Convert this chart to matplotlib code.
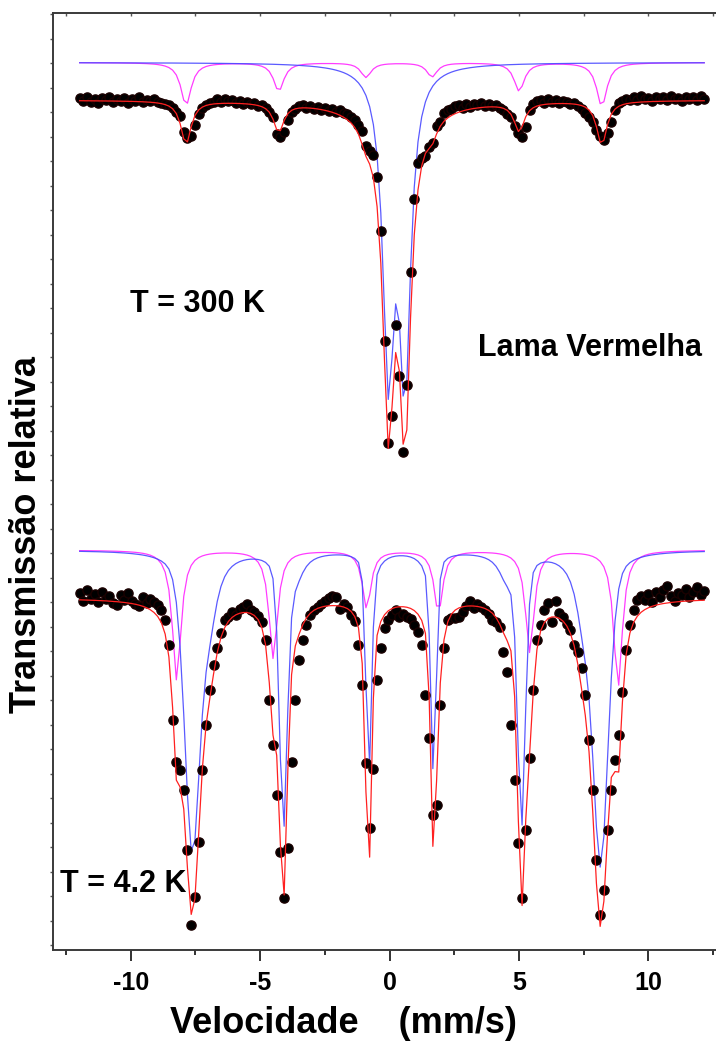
import numpy as np
import matplotlib
matplotlib.use("Agg")
import matplotlib.pyplot as plt
from matplotlib.ticker import MultipleLocator

plt.rcParams['font.family'] = ['Liberation Sans', 'DejaVu Sans']
plt.rcParams['font.weight'] = 'bold'
plt.rcParams['axes.unicode_minus'] = False

# Channel velocities (mm/s) shared by both spectra
VEL = np.linspace(-11.97, 12.16, 169)

# Measured relative transmission (%), T = 300 K
T300 = [
    100.08, 99.96, 100.12, 99.92, 100.04, 99.88, 100.10, 99.98, 100.14, 99.90, 100.02,
    99.94, 100.10, 99.86, 100.04, 99.96, 100.12, 99.90, 100.00, 99.94, 100.06, 99.90,
    99.88, 99.84, 99.80, 99.67, 99.51, 99.35, 98.69, 98.45, 98.53, 98.98, 99.43, 99.67,
    99.80, 99.86, 99.92,
    100.02, 99.90, 100.06, 99.94, 99.98, 99.86, 99.96, 99.84, 99.92, 99.82, 99.86, 99.76,
    99.80, 99.67,
    99.51, 99.31, 98.61, 98.49, 98.69, 99.18,
    99.51, 99.63, 99.74, 99.78, 99.66, 99.76, 99.62, 99.73, 99.61, 99.68, 99.57, 99.62,
    99.51, 99.58, 99.45, 99.43, 99.31, 99.18, 98.98, 98.73,
    98.12, 97.92, 97.76, 96.86, 94.65, 90.16, 86.00, 87.10, 90.82, 88.73, 85.63, 88.37,
    92.98, 95.96, 97.43, 97.63, 97.71, 98.08, 98.24, 98.94, 99.10, 99.47, 99.59,
    99.65, 99.74, 99.80, 99.68, 99.82, 99.72, 99.84, 99.78, 99.86, 99.76, 99.82, 99.74,
    99.78, 99.67, 99.59, 99.43, 99.31, 98.94, 98.65, 98.49, 98.90, 99.59,
    99.84, 99.94, 99.98, 99.88, 100.04, 99.92, 99.98, 99.86, 99.96, 99.90, 99.84, 99.86,
    99.76, 99.63, 99.47, 99.31, 99.10, 98.78, 98.53, 98.37, 98.65, 99.10, 99.59, 99.88,
    99.96,
    100.06, 99.98, 100.12, 100.00, 100.16, 100.02, 100.10, 99.96, 100.14, 100.04, 100.12,
    99.98, 100.18, 100.02, 100.10, 99.96, 100.14, 100.06, 100.12, 99.98, 100.16, 100.06,
]

# Measured relative transmission (%), T = 4.2 K
T42 = [
    100.20, 99.90, 100.33, 99.98, 100.16, 99.84, 100.24, 99.96, 100.08, 99.80, 99.71,
    100.12, 99.94, 100.20, 99.88, 99.76, 99.67, 100.04, 99.82, 99.96, 99.84, 99.71,
    99.51, 99.10, 98.08, 95.02, 93.31, 92.98, 92.16, 89.71, 86.65, 87.80, 90.04, 92.98,
    94.82, 96.24, 97.27, 97.96, 98.57, 99.10,
    99.22, 99.43, 99.31, 99.55, 99.63, 99.76, 99.51, 99.43, 99.27, 99.02, 98.29,
    95.84, 94.00, 91.96, 89.63, 87.76, 89.80, 93.31, 95.84, 97.47, 98.29, 98.90, 99.31,
    99.51, 99.63, 99.76, 99.88, 100.00, 100.08, 100.04, 99.55, 99.76, 99.63, 99.31, 99.06,
    98.08, 96.45, 93.27, 90.61, 93.02, 96.65, 97.96, 98.78,
    99.10, 99.31, 99.51, 99.22, 99.35, 99.22, 99.14, 98.90, 98.61, 98.08,
    96.04, 94.29, 91.14, 91.55, 95.63, 97.96, 99.10,
    99.18, 99.18, 99.22, 99.43, 99.67, 99.88, 99.59, 99.76, 99.63, 99.51, 99.35, 99.10,
    99.02, 98.82, 97.80, 96.98,
    94.82, 92.57, 90.00, 87.76, 90.53, 93.47,
    96.24, 98.29, 98.90, 99.51, 99.80, 99.02, 99.88, 99.39, 99.22, 98.94, 98.69, 98.08,
    97.80, 97.14, 96.04, 94.20, 92.16, 89.31, 87.06, 88.08, 90.53, 92.16, 93.39, 94.41,
    96.16, 97.88, 98.90, 99.51, 99.92,
    100.08, 99.92, 100.16, 99.84, 100.24, 100.04, 100.33, 100.49, 100.08, 99.88, 100.20,
    100.12, 100.37, 100.04, 100.24, 100.45, 100.12, 100.29,
]

# 300 K fit: magnetic sextet (positions mm/s, depths %, half widths mm/s)
S300_POS = [-7.86, -4.28, -0.91, 1.64, 5.01, 8.20]
S300_DEPTH = [1.74, 1.16, 0.60, 0.58, 1.16, 1.78]
S300_HWHM = 0.24
# 300 K fit: paramagnetic doublet
D300_POS = [-0.04, 0.60]
D300_DEPTH = [12.04, 12.45]
D300_HWHM = 0.26
# 300 K fit: broad background absorption
B300_POS = 0.0
B300_DEPTH = 0.41
B300_HWHM = 2.0

# 4.2 K fit: narrow sextet
S42_POS = [-8.22, -4.49, -0.88, 1.89, 5.42, 8.83]
S42_DEPTH = [5.31, 4.41, 2.37, 2.53, 4.16, 5.59]
S42_HWHM = 0.20
# 4.2 K fit: broadened sextet (main lines + inner shoulders)
H42_POS = [-7.62, -4.10, -0.80, 1.70, 5.10, 8.16]
H42_DEPTH = [11.84, 10.94, 8.78, 8.78, 10.90, 12.30]
H42_FWHM = [0.70, 0.36, 0.26, 0.26, 0.36, 0.70]
H42_ETA = 0.35
H42_SAT_POS = [-6.95, -3.65, -0.55, 1.45, 4.55, 7.50]
H42_SAT_DEPTH = [2.45, 1.02, 0.41, 0.41, 1.02, 2.45]
H42_SAT_HWHM = 0.38

# vertical placement of sub-spectra
COMP_LIFT_300 = 1.53
COMP_LIFT_42 = 1.96
OFFSET_42 = 20.33


def lorentz(v, pos, depth, hwhm):
    return depth / (1.0 + ((v - pos) / hwhm) ** 2)


def pseudo_voigt(v, pos, depth, fwhm, eta):
    x = (v - pos) / (fwhm / 2.0)
    return depth * (eta / (1.0 + x ** 2) + (1.0 - eta) * np.exp(-np.log(2) * x ** 2))


v = VEL
sext300 = sum(lorentz(v, p, d, S300_HWHM) for p, d in zip(S300_POS, S300_DEPTH))
dbl300 = sum(lorentz(v, p, d, D300_HWHM) for p, d in zip(D300_POS, D300_DEPTH))
broad300 = lorentz(v, B300_POS, B300_DEPTH, B300_HWHM)
fit300 = 100.0 - sext300 - dbl300 - broad300

sext42 = sum(lorentz(v, p, d, S42_HWHM) for p, d in zip(S42_POS, S42_DEPTH))
hyp42 = sum(pseudo_voigt(v, p, d, w, H42_ETA)
            for p, d, w in zip(H42_POS, H42_DEPTH, H42_FWHM))
hyp42 = hyp42 + sum(lorentz(v, p, d, H42_SAT_HWHM)
                    for p, d in zip(H42_SAT_POS, H42_SAT_DEPTH))
fit42 = 100.0 - sext42 - hyp42

RED = '#ff2020'
BLUE = '#4848ff'
MAGENTA = '#ff3cff'

fig = plt.figure(figsize=(7.16, 10.41), dpi=100)
ax = fig.add_axes([53 / 716, 91 / 1041, 673 / 716, 937 / 1041])

# 300 K
ax.plot(v, 100 + COMP_LIFT_300 - sext300, color=MAGENTA, lw=0.9, zorder=2)
ax.plot(v, 100 + COMP_LIFT_300 - dbl300, color=BLUE, lw=0.9, zorder=2, alpha=0.9)
ax.plot(v, T300, 'o', ms=6.6, color='black', mec='#1a0000', zorder=3)
ax.plot(v, fit300, color=RED, lw=0.9, zorder=4)

# 4.2 K
ax.plot(v, 100 + COMP_LIFT_42 - OFFSET_42 - sext42, color=MAGENTA, lw=0.9, zorder=2)
ax.plot(v, 100 + COMP_LIFT_42 - OFFSET_42 - hyp42, color=BLUE, lw=0.9, zorder=2, alpha=0.9)
ax.plot(v, np.array(T42) - OFFSET_42, 'o', ms=6.6, color='black', mec='#1a0000', zorder=3)
ax.plot(v, fit42 - OFFSET_42, color=RED, lw=0.9, zorder=4)

ax.set_xlim(-13, 13)
ax.set_ylim(65.31, 103.55)

for side in ('left', 'bottom', 'top', 'right'):
    ax.spines[side].set_color('#3a3a3a')
    ax.spines[side].set_linewidth(1.4)

ax.xaxis.set_major_locator(MultipleLocator(5))
ax.xaxis.set_minor_locator(MultipleLocator(2.5))
ax.yaxis.set_major_locator(MultipleLocator(1.0, offset=0.5))
ax.tick_params(axis='x', which='major', direction='out', length=8, width=1.3,
               color='#222222', labelsize=18, pad=7)
ax.tick_params(axis='x', which='minor', direction='out', length=3.5, width=1.3,
               color='#222222')
ax.tick_params(axis='y', which='major', direction='out', length=2.5, width=1.0,
               color='#555555', labelleft=False)
for lab in ax.get_xticklabels():
    lab.set_fontweight('bold')

top = ax.secondary_xaxis('top')
top.xaxis.set_major_locator(MultipleLocator(5))
top.xaxis.set_minor_locator(MultipleLocator(2.5))
top.tick_params(which='both', direction='in', length=2.5, width=1.0,
                color='#555555', labeltop=False)
top.spines['top'].set_visible(False)

fig.text(130 / 716, (1041 - 311.7) / 1041, 'T = 300 K', fontsize=22,
         fontweight='bold', ha='left', va='baseline')
fig.text(478 / 716, (1041 - 356) / 1041, 'Lama Vermelha', fontsize=22,
         fontweight='bold', ha='left', va='baseline')
fig.text(60 / 716, (1041 - 891.7) / 1041, 'T = 4.2 K', fontsize=22,
         fontweight='bold', ha='left', va='baseline')

fig.text(343.5 / 716, 8 / 1041, 'Velocidade    (mm/s)', fontsize=26,
         fontweight='bold', ha='center', va='baseline')
fig.text(27 / 716, (1041 - 535) / 1041, 'Transmissão relativa', fontsize=26,
         fontweight='bold', ha='center', va='center', rotation=90)

fig.savefig('out.png', dpi=100)
